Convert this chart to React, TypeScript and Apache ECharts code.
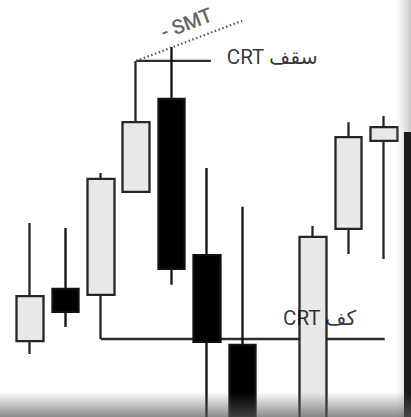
import React, { useEffect, useRef } from "react";
import * as echarts from "echarts";

const categories = ["1", "2", "3", "4", "5", "6", "7", "8", "9", "10", "11"];
const opens: (number | null)[] = [18.2, 30.7, 29.3, 54.0, 76.3, 38.8, 17.3, null, -3, 45.1, 66.2];
const closes: (number | null)[] = [29.0, 25.2, 57.1, 70.7, 35.5, 18.0, -3, null, 43.2, 67.1, 69.5];
const lows: (number | null)[] = [15.1, 21.6, 18.7, 53.7, 31.7, -5, -5, null, -5, 39.1, 37.9];
const highs: (number | null)[] = [46.5, 45.3, 58.5, 85.4, 88.7, 59.7, 50.4, null, 45.8, 70.7, 72.2];

// annotation lines: [xIndex, price]
const crtHigh = [[3, 85.4], [5.11, 85.4]];
const crtLow = [[2, 18.7], [10.02, 18.7]];
const smtLine = [[3, 85.4], [5.99, 95.0]];
const smtLabel = { x: 4.42, y: 94.4, text: "- SMT" };
const highLabel = { x: 5.56, y: 86.4, text: "CRT سقف" };
const lowLabel = { x: 7.15, y: 23.8, text: "CRT كف" };

const FONT = "Roboto, 'DejaVu Sans', sans-serif";

export default function App() {
  const ref = useRef<HTMLDivElement>(null);
  useEffect(() => {
    if (!ref.current) return;
    const chart = echarts.init(ref.current, null, { renderer: "svg" });
    const candleData = categories.map((_, i) =>
      opens[i] === null ? "-" : [opens[i], closes[i], lows[i], highs[i]]
    );
    const lineStyle = { color: "#2e2e2e", width: 2.3 };
    const textSeries = (lbl: { x: number; y: number; text: string }, extra: any) => ({
      type: "scatter",
      xAxisIndex: 1,
      symbolSize: 0,
      silent: true,
      data: [[lbl.x, lbl.y]],
      label: {
        show: true,
        formatter: lbl.text,
        fontFamily: FONT,
        ...extra,
      },
      z: 10,
    });
    chart.setOption({
      animation: false,
      backgroundColor: "#fff",
      grid: { left: 12.3, right: 9.3, top: 0, bottom: 0 },
      xAxis: [
        { type: "category", data: categories, show: false, boundaryGap: true },
        { type: "value", min: -0.5, max: 10.5, show: false },
      ],
      yAxis: { type: "value", min: 0, max: 100, show: false },
      series: [
        {
          type: "candlestick",
          data: candleData,
          barWidth: 27,
          clip: true,
          itemStyle: {
            color: "#e8e8e8",
            color0: "#000",
            borderColor: "#262626",
            borderColor0: "#111",
            borderWidth: 2.3,
          },
        },
        {
          type: "line",
          xAxisIndex: 1,
          data: crtHigh,
          symbol: "none",
          lineStyle,
          z: 1,
        },
        {
          type: "line",
          xAxisIndex: 1,
          data: crtLow,
          symbol: "none",
          lineStyle,
          z: 1,
        },
        {
          type: "line",
          xAxisIndex: 1,
          data: smtLine,
          symbol: "none",
          lineStyle: { color: "#555", width: 2.2, type: [1.5, 2.5] },
          z: 3,
        },
        textSeries(smtLabel, {
          position: "inside",
          rotate: 21,
          fontSize: 20,
          fontWeight: 500,
          color: "#3a3a3a",
        }),
        textSeries(highLabel, {
          position: "right",
          distance: 0,
          fontSize: 20.5,
          color: "#000",
        }),
        textSeries(lowLabel, {
          position: "right",
          distance: 0,
          fontSize: 20.5,
          color: "#000",
        }),
      ],
      graphic: [
        {
          type: "rect",
          shape: { x: 396, y: 0, width: 15, height: 417 },
          style: {
            fill: new echarts.graphic.LinearGradient(0, 0, 1, 0, [
              { offset: 0, color: "rgba(220,220,220,0)" },
              { offset: 1, color: "rgba(200,200,200,1)" },
            ]),
          },
          z: 20,
        },
        {
          type: "rect",
          shape: { x: 404, y: 132, width: 7, height: 285 },
          style: { fill: "#1a1a1a" },
          z: 21,
        },
        {
          type: "rect",
          shape: { x: 0, y: 392, width: 411, height: 25 },
          style: {
            fill: new echarts.graphic.LinearGradient(0, 0, 0, 1, [
              { offset: 0, color: "rgba(90,90,90,0)" },
              { offset: 1, color: "rgba(90,90,90,0.7)" },
            ]),
          },
          z: 22,
        },
      ],
    });
    return () => chart.dispose();
  }, []);
  return (
    <div
      ref={ref}
      style={{ position: "fixed", left: 0, top: 0, width: 411, height: 417 }}
    />
  );
}
